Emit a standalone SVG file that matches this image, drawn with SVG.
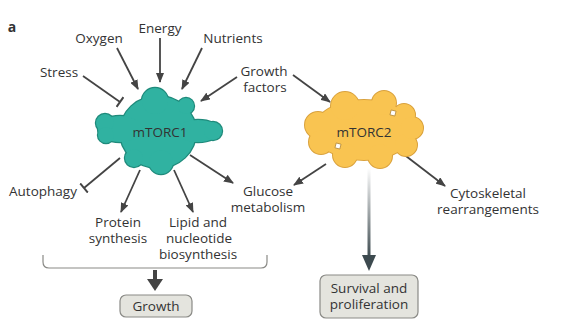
<svg xmlns="http://www.w3.org/2000/svg" width="572" height="324" viewBox="0 0 572 324">
<style>
text{font-family:"Open Sans","Noto Sans",sans-serif;font-size:13.5px;fill:#333;text-anchor:middle}
.c{stroke:#444;stroke-width:1.8;fill:none}
.a{marker-end:url(#arr)}
.t{marker-end:url(#tee)}
.box{fill:#e4e4de;stroke:#8a8a86;stroke-width:1.2}
.o1{fill:#1f8a7b;stroke:#1f8a7b;stroke-width:2.4}
.f1{fill:#30b2a1}
.o2{fill:#d9a13c;stroke:#d9a13c;stroke-width:2}
.f2{fill:#f9c451}
.sq{fill:#fff;stroke:#b58a3a;stroke-width:0.8}
</style>
<defs>
<marker id="arr" markerUnits="userSpaceOnUse" viewBox="0 0 10 8" refX="9" refY="4" markerWidth="10" markerHeight="8" orient="auto"><path d="M0,0 L10,4 L0,8 z" fill="#444"/></marker>
<marker id="tee" markerUnits="userSpaceOnUse" viewBox="0 0 4 12" refX="2" refY="6" markerWidth="4" markerHeight="12" orient="auto"><path d="M2,0 V12" stroke="#444" stroke-width="2"/></marker>
<linearGradient id="gr" x1="0" y1="168" x2="0" y2="258" gradientUnits="userSpaceOnUse"><stop offset="0" stop-color="#ffffff"/><stop offset="1" stop-color="#3d4a4f"/></linearGradient>
</defs>
<text x="12" y="32" style="font-weight:bold;font-size:14px">a</text>
<g id="connectors">
<path class="c t" d="M83,76 L120,102"/>
<path class="c a" d="M117,48 L138,89"/>
<path class="c a" d="M160,38 L160,82"/>
<path class="c a" d="M202,48 L182,89"/>
<path class="c a" d="M237,77 L201,101"/>
<path class="c a" d="M293,75 L330,102"/>
<path class="c t" d="M120,158 L84,188"/>
<path class="c a" d="M140,170 L121,212"/>
<path class="c a" d="M174,170 L193,212"/>
<path class="c a" d="M190,155 L233,183"/>
<path class="c a" d="M326,164 L294,185"/>
<path class="c a" d="M402,153 L445,186"/>
<path d="M43,255 V262 Q43,268 49,268 H261 Q267,268 267,262 V255" fill="none" stroke="#8a8a86" stroke-width="1.2"/>
<rect x="153" y="270" width="4" height="11" fill="#444"/>
<path d="M147,279 L163,279 L155,291 z" fill="#444"/>
<rect x="367.5" y="168" width="3" height="89" fill="url(#gr)"/>
<path d="M362,255 L376,255 L369,271 z" fill="#3d4a4f"/>
</g>
<g id="mTORC1">
<g class="o1">
<ellipse cx="158" cy="132" rx="38" ry="36"/><circle cx="155" cy="101" r="13"/><circle cx="186" cy="106" r="8"/>
<ellipse cx="120" cy="129" rx="22" ry="13"/><circle cx="105" cy="123" r="9"/><circle cx="106" cy="135" r="8"/>
<ellipse cx="198" cy="131" rx="22" ry="11"/><circle cx="213" cy="131" r="9"/>
<circle cx="161" cy="162" r="12"/><circle cx="134" cy="158" r="9"/>
</g>
<g class="f1">
<ellipse cx="158" cy="132" rx="38" ry="36"/><circle cx="155" cy="101" r="13"/><circle cx="186" cy="106" r="8"/>
<ellipse cx="120" cy="129" rx="22" ry="13"/><circle cx="105" cy="123" r="9"/><circle cx="106" cy="135" r="8"/>
<ellipse cx="198" cy="131" rx="22" ry="11"/><circle cx="213" cy="131" r="9"/>
<circle cx="161" cy="162" r="12"/><circle cx="134" cy="158" r="9"/>
</g>
<text x="160" y="137">mTORC1</text>
</g>
<g id="mTORC2">
<g class="o2">
<ellipse cx="364" cy="130" rx="50" ry="30"/><circle cx="345" cy="106" r="14"/><circle cx="384" cy="103" r="12"/><circle cx="404" cy="115" r="11"/>
<circle cx="318" cy="125" r="13"/><circle cx="321" cy="142" r="12"/><circle cx="345" cy="155" r="12"/><circle cx="380" cy="156" r="12"/>
<circle cx="406" cy="145" r="11"/><circle cx="412" cy="128" r="11"/>
</g>
<g class="f2">
<ellipse cx="364" cy="130" rx="50" ry="30"/><circle cx="345" cy="106" r="14"/><circle cx="384" cy="103" r="12"/><circle cx="404" cy="115" r="11"/>
<circle cx="318" cy="125" r="13"/><circle cx="321" cy="142" r="12"/><circle cx="345" cy="155" r="12"/><circle cx="380" cy="156" r="12"/>
<circle cx="406" cy="145" r="11"/><circle cx="412" cy="128" r="11"/>
</g>
<rect class="sq" x="390.5" y="110.5" width="5" height="5" transform="rotate(15 393 113)"/>
<rect class="sq" x="335.5" y="143.5" width="5" height="5" transform="rotate(15 338 146)"/>
<text x="364" y="137">mTORC2</text>
</g>
<g id="stress"><text x="59" y="77">Stress</text></g>
<g id="oxygen"><text x="99" y="43">Oxygen</text></g>
<g id="energy"><text x="160" y="33">Energy</text></g>
<g id="nutrients"><text x="233" y="43">Nutrients</text></g>
<g id="growth-factors"><text x="264" y="76">Growth</text><text x="265" y="92">factors</text></g>
<g id="autophagy"><text x="43" y="196">Autophagy</text></g>
<g id="protein"><text x="118" y="227">Protein</text><text x="118" y="243">synthesis</text></g>
<g id="lipid"><text x="198" y="227">Lipid and</text><text x="199" y="243">nucleotide</text><text x="198" y="259">biosynthesis</text></g>
<g id="glucose"><text x="268" y="196">Glucose</text><text x="268" y="212">metabolism</text></g>
<g id="cytoskeletal"><text x="488" y="198">Cytoskeletal</text><text x="488" y="214">rearrangements</text></g>
<g id="growth"><rect class="box" x="120" y="295" width="72" height="22" rx="6"/><text x="156" y="311">Growth</text></g>
<g id="survival"><rect class="box" x="320" y="275" width="98" height="43" rx="6"/><text x="369" y="293">Survival and</text><text x="369" y="309">proliferation</text></g>
</svg>
